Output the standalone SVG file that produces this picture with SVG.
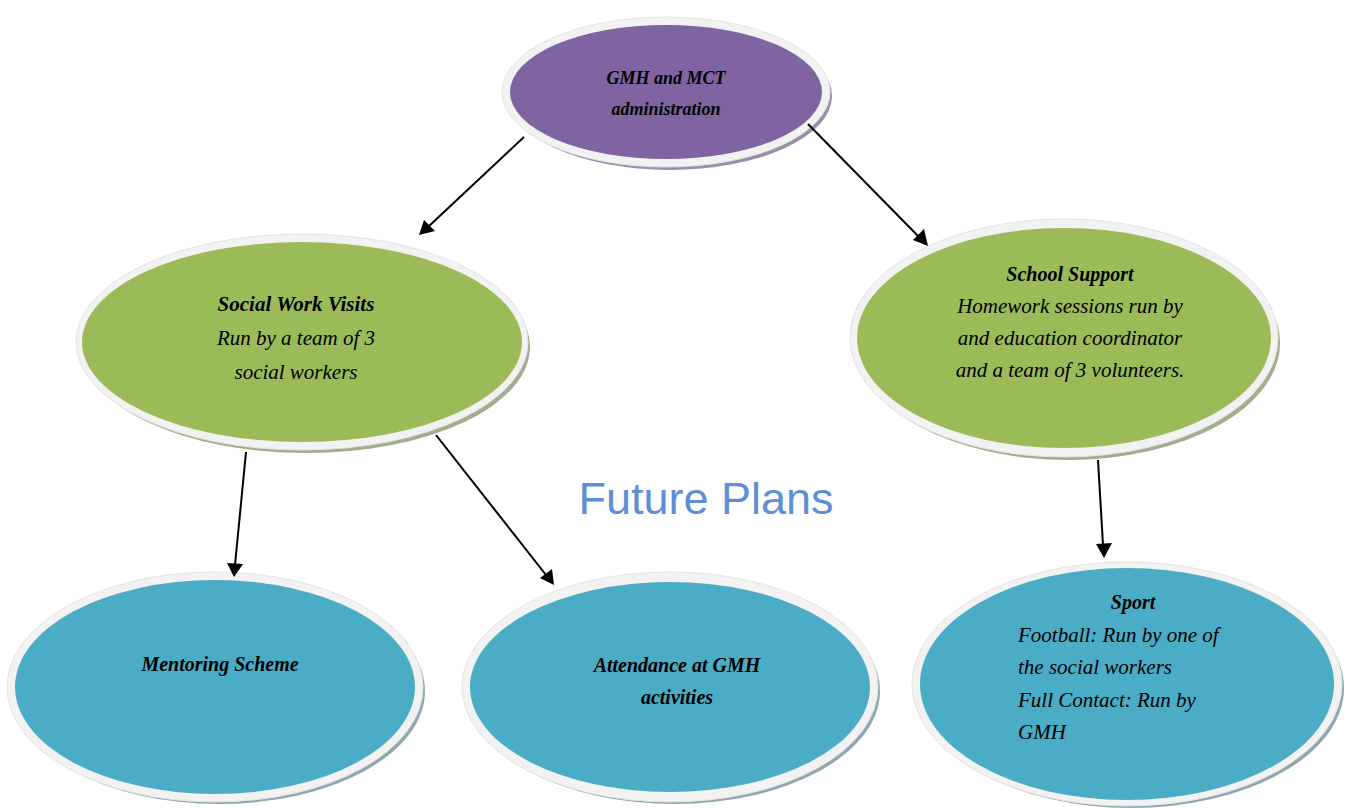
<svg xmlns="http://www.w3.org/2000/svg" width="1346" height="808" viewBox="0 0 1346 808">
<defs>
<style>
.ring{fill:#F2F2F2;stroke:#E4E4E4;stroke-width:1}
.purple{fill:#8064A2}
.green{fill:#9BBB59}
.blue{fill:#4BACC6}
.shp{fill:#9A8FAA}
.shg{fill:#A3AD8C}
.shb{fill:#8FA7B0}
.t{font-family:"Liberation Serif",serif;font-style:italic;font-size:21px;fill:#000}
.b{font-weight:bold;font-size:20px}
.c{text-anchor:middle}
.edge{stroke:#000;stroke-width:2;fill:none}
.head{fill:#000}
.title{font-family:"Liberation Sans",sans-serif;font-size:45px;fill:#5E8FD6;text-anchor:middle}
</style>
</defs>
<rect width="1346" height="808" fill="#fff"/>

<g id="node-admin">
<ellipse class="shp" cx="670" cy="96" rx="162" ry="74"/>
<ellipse class="ring" cx="666" cy="92" rx="164" ry="75"/>
<ellipse class="purple" cx="666" cy="92" rx="156" ry="67"/>
<text class="t b c" x="666" y="84" style="font-size:18px">GMH and MCT</text>
<text class="t b c" x="666" y="115" style="font-size:18px">administration</text>
</g>

<g id="node-social">
<ellipse class="shg" cx="306" cy="347" rx="224" ry="106"/>
<ellipse class="ring" cx="302" cy="342" rx="226" ry="108"/>
<ellipse class="green" cx="302" cy="342" rx="220" ry="100"/>
<text class="t b c" x="296" y="311" style="font-size:21px">Social Work Visits</text>
<text class="t c" x="296" y="345">Run by a team of 3</text>
<text class="t c" x="296" y="379">social workers</text>
</g>

<g id="node-school">
<ellipse class="shg" cx="1068" cy="343" rx="212" ry="117"/>
<ellipse class="ring" cx="1064" cy="338" rx="214" ry="119"/>
<ellipse class="green" cx="1064" cy="338" rx="207" ry="110"/>
<text class="t b c" x="1070" y="281">School Support</text>
<text class="t c" x="1070" y="313">Homework sessions run by</text>
<text class="t c" x="1070" y="345">and education coordinator</text>
<text class="t c" x="1070" y="377">and a team of 3 volunteers.</text>
</g>

<g id="node-mentoring">
<ellipse class="shb" cx="219" cy="691" rx="206" ry="113"/>
<ellipse class="ring" cx="215" cy="687" rx="208" ry="115"/>
<ellipse class="blue" cx="215" cy="687" rx="200" ry="107"/>
<text class="t b c" x="220" y="671">Mentoring Scheme</text>
</g>

<g id="node-attendance">
<ellipse class="shb" cx="674" cy="691" rx="206" ry="113"/>
<ellipse class="ring" cx="670" cy="687" rx="208" ry="115"/>
<ellipse class="blue" cx="670" cy="687" rx="200" ry="105"/>
<text class="t b c" x="677" y="672">Attendance at GMH</text>
<text class="t b c" x="677" y="704">activities</text>
</g>

<g id="node-sport">
<ellipse class="shb" cx="1131" cy="688" rx="213" ry="120"/>
<ellipse class="ring" cx="1127" cy="684" rx="215" ry="122"/>
<ellipse class="blue" cx="1127" cy="684" rx="207" ry="116"/>
<text class="t b c" x="1133" y="609">Sport</text>
<text class="t" x="1018" y="642">Football: Run by one of</text>
<text class="t" x="1018" y="674">the social workers</text>
<text class="t" x="1018" y="707">Full Contact: Run by</text>
<text class="t" x="1018" y="739">GMH</text>
</g>

<g id="connectors">
<line class="edge" x1="524" y1="137" x2="428" y2="227"/>
<path class="head" d="M419,235 L424,220 L435,231 z"/>
<line class="edge" x1="808" y1="124" x2="920" y2="238"/>
<path class="head" d="M928,246 L913,240 L924,229 z"/>
<line class="edge" x1="246" y1="452" x2="235" y2="565"/>
<path class="head" d="M234,577 L227,563 L243,564 z"/>
<line class="edge" x1="436" y1="435" x2="546" y2="575"/>
<path class="head" d="M554,585 L540,578 L552,569 z"/>
<line class="edge" x1="1098" y1="460" x2="1103" y2="545"/>
<path class="head" d="M1104,558 L1096,544 L1112,543 z"/>
</g>

<text class="title" x="706" y="514">Future Plans</text>
</svg>
